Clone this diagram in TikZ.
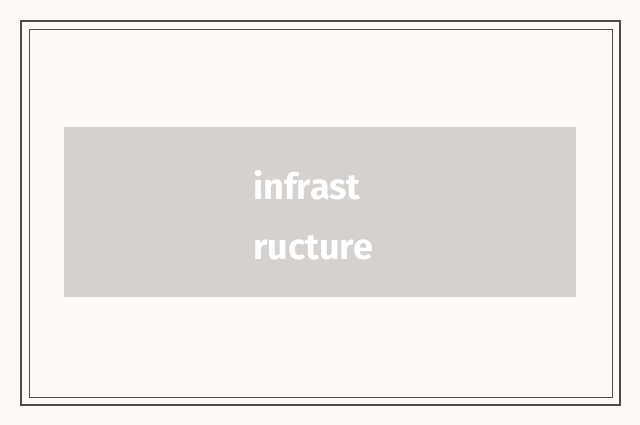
\documentclass[tikz,border=0pt]{standalone}
\usepackage{fontspec}
\setsansfont{Fira Sans}
\begin{document}
\begin{tikzpicture}[x=1pt,y=-1pt,
  frame/.style={draw=black!70,line width=1.2pt},
  box/.style={fill=boxgray,draw=none},
  lbl/.style={text=white,font=\sffamily\fontsize{36}{60}\selectfont\bfseries,align=left,anchor=west,inner sep=0}]
\definecolor{bgc}{HTML}{FFF9F5}
\definecolor{boxgray}{HTML}{D4D1CE}
\fill[bgc] (0,0) rectangle (640,425);
\useasboundingbox (0,0) rectangle (640,425);
\draw[frame] (21,21) rectangle (620,405);
\draw[draw=black!70,line width=0.7pt] (29,29) rectangle (612,397);
\fill[box] (64,127) rectangle (576,297);
\node[lbl] (t) at (253,215) {infrast\\ructure};
\end{tikzpicture}
\end{document}
